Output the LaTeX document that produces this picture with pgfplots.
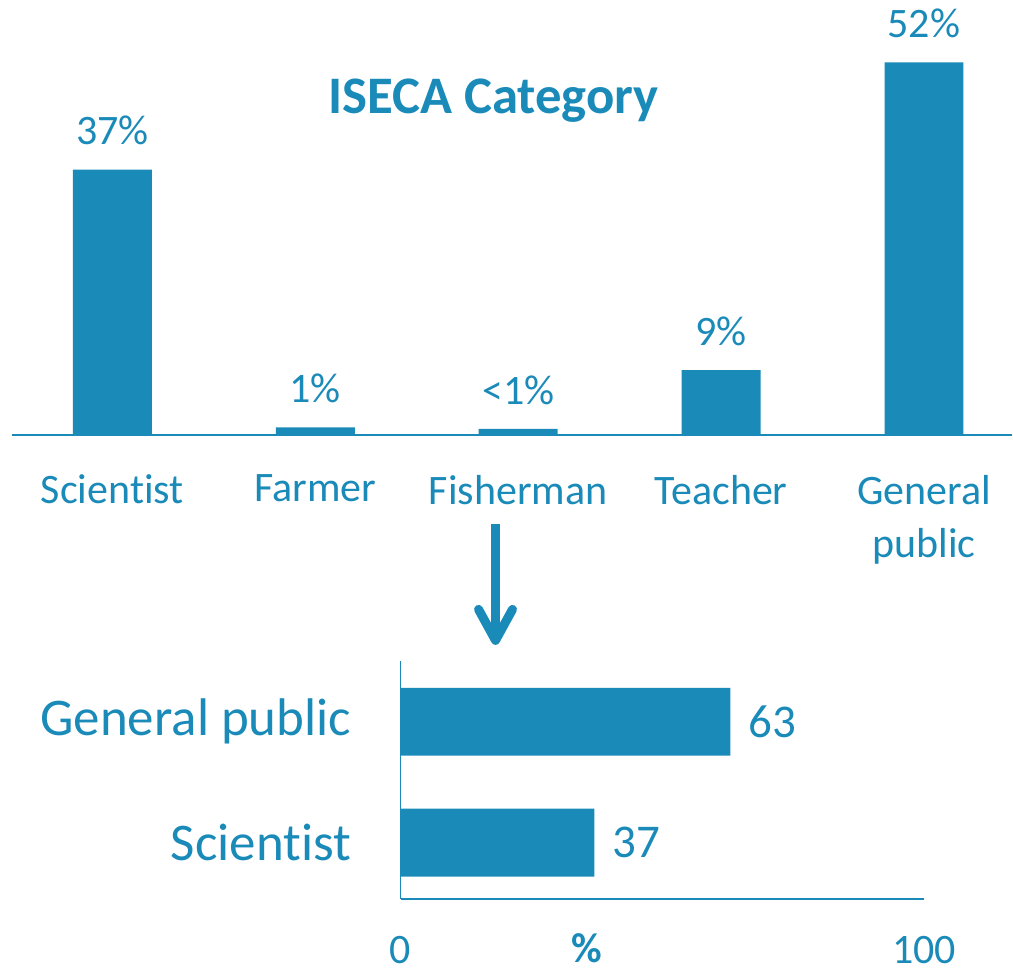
\documentclass[border=0pt]{standalone}
\usepackage{pgfplots}
\pgfplotsset{compat=1.18}
\usepackage{fontspec}
\setmainfont{Carlito}[Ligatures=NoCommon]
\definecolor{isblue}{RGB}{26,138,185}

\begin{document}
\begin{tikzpicture}
\path (0,0) rectangle (506.5pt,486.5pt);

% top: category shares
\begin{axis}[
    at={(6pt,269pt)}, anchor=south west,
    scale only axis, width=500.5pt, height=217.5pt,
    xmin=-0.495, xmax=4.434, ymin=0, ymax=60.7,
    axis x line=bottom, axis y line=none,
    axis line style={isblue, line width=1pt, -},
    xtick={0,1,2,3,4},
    xticklabels={Scientist,Farmer,Fisherman,Teacher,General\\public},
    major tick length=0pt, ytick=\empty,
    xticklabel style={font=\fontsize{21}{26.5}\selectfont, text=isblue,
        align=center, anchor=north, inner sep=0pt, yshift=-20pt},
    ybar, bar width=39.5pt,
    nodes near coords, point meta=explicit symbolic,
    every node near coord/.append style={font=\fontsize{21}{25}\selectfont,
        text=isblue, inner sep=0pt, yshift=12pt},
    clip=false,
    ]
    \addplot[fill=isblue, draw=none] coordinates {
        (0,37) [37\%] (1,1) [1\%] (2,0.8) [<1\%] (3,9) [9\%] (4,52) [52\%]
    };
\end{axis}

\node[anchor=base, text=isblue, font=\fontsize{26.4}{30}\selectfont\bfseries]
    at (247pt,429.5pt) {ISECA Category};

% arrow
\draw[isblue, line width=4.5pt] (248pt,224pt) -- (248pt,168pt);
\draw[isblue, line width=4.5pt, line cap=round, line join=round]
    (239.5pt,181.5pt) -- (248pt,166pt) -- (256.5pt,181.5pt);

% bottom: General public vs Scientist
\begin{axis}[
    at={(200.5pt,36.5pt)}, anchor=south west,
    scale only axis, width=262pt, height=119pt,
    xmin=0, xmax=100, ymin=-0.467, ymax=1.5,
    axis x line=bottom, axis y line=left,
    axis line style={isblue, line width=0.75pt, -},
    xtick={0,100}, ytick={0,1},
    yticklabels={Scientist,General public},
    major tick length=0pt,
    /pgf/number format/assume math mode=true,
    xticklabel style={font=\fontsize{21}{25}\selectfont, text=isblue,
        inner sep=0pt, anchor=north, yshift=-18.5pt},
    yticklabel style={font=\fontsize{26.5}{30}\selectfont, text=isblue,
        inner sep=0pt, anchor=east, xshift=-24.5pt},
    xlabel={\textbf{\%}},
    xlabel style={at={(axis description cs:0.355,0)}, anchor=north,
        inner sep=0pt, yshift=-17pt, font=\fontsize{21}{25}\selectfont, text=isblue},
    xbar, bar width=34pt,
    nodes near coords,
    every node near coord/.append style={font=\fontsize{23.5}{28}\selectfont,
        text=isblue, inner sep=0pt, anchor=west, xshift=9pt},
    clip=false,
    ]
    \addplot[fill=isblue, draw=none] coordinates {(37,0) (63,1)};
\end{axis}
\end{tikzpicture}
\end{document}
